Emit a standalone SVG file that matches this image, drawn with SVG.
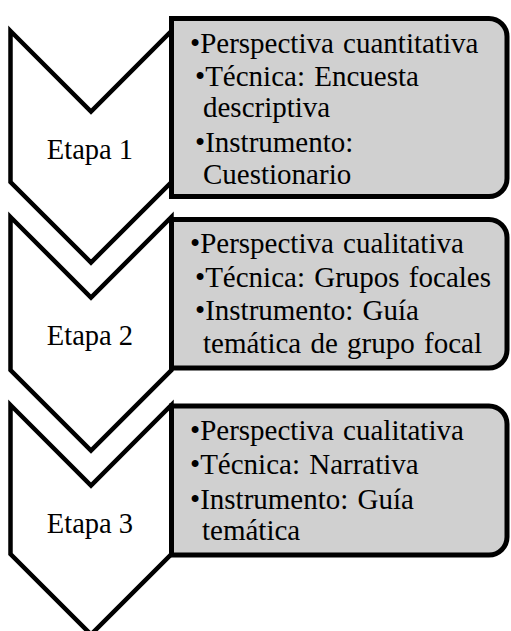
<svg xmlns="http://www.w3.org/2000/svg" width="511" height="631" viewBox="0 0 511 631">
<style>
.chev{fill:#ffffff;stroke:#000000;stroke-width:4.5;stroke-linejoin:miter}
.box{fill:#d0d0d0;stroke:#000000;stroke-width:5}
.lbl{text-anchor:middle;font-size:28.5px}
.bt{word-spacing:2px;font-size:29px}
</style>
<rect width="511" height="631" fill="#ffffff"/>
<g id="connectors"></g>
<g font-family="'Liberation Serif', 'Times New Roman', serif" font-size="29" fill="#000000">
<g id="etapa1">
<path class="chev" d="M10.5,31 L91,111.5 L171.5,31 V182 L91,262.5 L10.5,182 Z"/>
<text class="lbl" x="90" y="159">Etapa 1</text>
</g>
<g id="box1">
<path class="box" d="M171.5,18.5 H489 A18,18 0 0 1 507,36.5 V178.5 A18,18 0 0 1 489,196.5 H171.5 Z"/>
<text class="bt" x="190" y="53">•Perspectiva cuantitativa</text>
<text class="bt" x="195" y="86">•Técnica: Encuesta</text>
<text class="bt" x="203" y="117">descriptiva</text>
<text class="bt" x="195" y="152">•Instrumento:</text>
<text class="bt" x="203" y="184">Cuestionario</text>
</g>
<g id="etapa2">
<path class="chev" d="M10.5,217 L91,297.5 L171.5,217 V370 L91,450.5 L10.5,370 Z"/>
<text class="lbl" x="90" y="345">Etapa 2</text>
</g>
<g id="box2">
<path class="box" d="M171.5,219.5 H489 A18,18 0 0 1 507,237.5 V350 A18,18 0 0 1 489,368 H171.5 Z"/>
<text class="bt" x="190" y="253">•Perspectiva cualitativa</text>
<text class="bt" x="195" y="287">•Técnica: Grupos focales</text>
<text class="bt" x="195" y="320">•Instrumento: Guía</text>
<text class="bt" x="203" y="353">temática de grupo focal</text>
</g>
<g id="etapa3">
<path class="chev" d="M10.5,405 L91,485.5 L171.5,405 V554 L91,634.5 L10.5,554 Z"/>
<text class="lbl" x="90" y="533">Etapa 3</text>
</g>
<g id="box3">
<path class="box" d="M171.5,406 H489 A18,18 0 0 1 507,424 V537 A18,18 0 0 1 489,555 H171.5 Z"/>
<text class="bt" x="190" y="440">•Perspectiva cualitativa</text>
<text class="bt" x="190" y="474">•Técnica: Narrativa</text>
<text class="bt" x="190" y="509">•Instrumento: Guía</text>
<text class="bt" x="202" y="540">temática</text>
</g>
</g>
</svg>
